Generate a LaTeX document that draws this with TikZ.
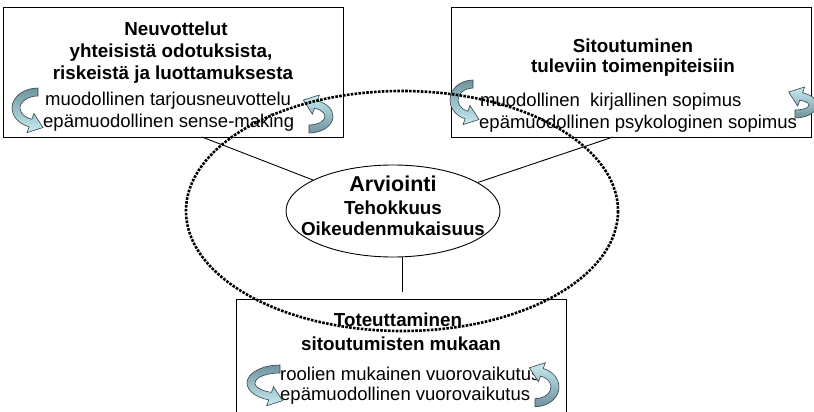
\documentclass[tikz,border=0pt]{standalone}
\usepackage{fontspec}
\setmainfont{Liberation Sans}
\usetikzlibrary{shapes.geometric}

\definecolor{loopdark}{HTML}{6F949E}
\definecolor{looplight}{HTML}{C8ECF1}
\definecolor{loopline}{HTML}{34444A}

\tikzset{
  panel/.style={draw=black, line width=1pt, fill=white, inner sep=0pt, anchor=north west},
  link/.style={draw=black, line width=0.9pt},
  headtxt/.style={font=\fontsize{18.8}{22}\selectfont\bfseries, anchor=base, inner sep=0pt},
  bigtxt/.style={font=\fontsize{21.5}{25}\selectfont\bfseries, anchor=base, inner sep=0pt},
  bodytxt/.style={font=\fontsize{18.5}{22}\selectfont, anchor=base west, inner sep=0pt},
  loopfill/.style={draw=loopline, line width=0.6pt},
  cycleband/.style={draw=black, line width=2.6pt, dash pattern=on 2.6pt off 1.3pt},
  % curved ribbon arrow: starts at the top, bends to the left, head at the bottom pointing right
  pics/loopleft/.style n args={2}{code={
    \pgfmathsetmacro\ox{#1}\pgfmathsetmacro\oy{#2}
    \pgfmathsetmacro\ix{#1-8}\pgfmathsetmacro\iy{#2-8}
    \pgfmathsetmacro\obx{\ox*cos(110)}\pgfmathsetmacro\oby{\oy*sin(110)}
    \pgfmathsetmacro\ibx{\ix*cos(110)}\pgfmathsetmacro\iby{\iy*sin(110)}
    \pgfmathsetmacro\tx{(\obx+\ibx)/2+12.5}\pgfmathsetmacro\ty{(\oby+\iby)/2+4.5}
    \path[loopfill, top color=loopdark, bottom color=looplight]
      (0,-\oy) arc[start angle=270, end angle=110, x radius=\ox, y radius=\oy]
      -- ({\obx-2.1},{\oby+5.8}) -- (\tx,\ty) -- ({\ibx+2.1},{\iby-5.8}) -- (\ibx,\iby)
      arc[start angle=110, end angle=270, x radius=\ix, y radius=\iy] -- cycle;
  }},
  % the same ribbon turned half round: starts at the bottom, head at the top pointing left
  pics/loopright/.style n args={2}{code={
    \pgfmathsetmacro\ox{#1}\pgfmathsetmacro\oy{#2}
    \pgfmathsetmacro\ix{#1-8}\pgfmathsetmacro\iy{#2-8}
    \pgfmathsetmacro\obx{\ox*cos(110)}\pgfmathsetmacro\oby{\oy*sin(110)}
    \pgfmathsetmacro\ibx{\ix*cos(110)}\pgfmathsetmacro\iby{\iy*sin(110)}
    \pgfmathsetmacro\tx{0-((\obx+\ibx)/2+12.5)}\pgfmathsetmacro\ty{0-((\oby+\iby)/2+4.5)}
    \path[loopfill, top color=looplight, bottom color=loopdark]
      (0,\oy) arc[start angle=90, end angle=-70, x radius=\ox, y radius=\oy]
      -- ({-(\obx)+2.1},{-(\oby)-5.8}) -- (\tx,\ty) -- ({-(\ibx)-2.1},{-(\iby)+5.8}) -- ({-(\ibx)},{-(\iby)})
      arc[start angle=-70, end angle=90, x radius=\ix, y radius=\iy] -- cycle;
  }},
}

\begin{document}
\begin{tikzpicture}[x=1pt, y=-1pt]
\useasboundingbox (0,0) rectangle (814,412);
\fill[white] (0,0) rectangle (814,412);

% the three panels
\node[panel, minimum width=340pt, minimum height=130pt] (b1) at (3,7) {};
\node[panel, minimum width=360pt, minimum height=130pt] (b2) at (451,7) {};
\node[panel, minimum width=330pt, minimum height=125pt] (b3) at (236,299) {};

% central evaluation ellipse
\node[draw=black, line width=0.9pt, fill=white, ellipse, inner sep=0pt,
      minimum width=214pt, minimum height=92pt] (ell) at (393,211) {};

% connectors
\coordinate (c1) at (202,137);
\coordinate (c2) at (613,137);
\coordinate (c3) at (402,292);
\draw[link] (c1) -- (ell);
\draw[link] (c2) -- (ell);
\draw[link] (ell.south -| c3) -- (c3);

% panel 1
\node[headtxt] (h11) at (176,36) {Neuvottelut};
\node[headtxt] (h12) at (171,57.3) {yhteisistä odotuksista,};
\node[headtxt] (h13) at (173,79) {riskeistä ja luottamuksesta};
\node[bodytxt] (l11) at (45,106) {muodollinen tarjousneuvottelu};
\node[bodytxt] (l12) at (43,127.7) {epämuodollinen sense-making};

% panel 2
\node[headtxt] (h21) at (633,53) {Sitoutuminen};
\node[headtxt] (h22) at (633,72.7) {tuleviin toimenpiteisiin};
\node[bodytxt] (l21) at (480,106.7) {muodollinen\ \ kirjallinen sopimus};
\node[bodytxt] (l22) at (479,128.3) {epämuodollinen psykologinen sopimus};

% panel 3
\node[headtxt] (h31) at (398,326.7) {Toteuttaminen};
\node[headtxt] (h32) at (401,350) {sitoutumisten mukaan};
\node[bodytxt] (l31) at (280,380) {roolien mukainen vuorovaikutus};
\node[bodytxt] (l32) at (280,400) {epämuodollinen vuorovaikutus};

% ellipse text
\node[bigtxt] (e1) at (393,191.7) {Arviointi};
\node[headtxt] (e2) at (393,214.3) {Tehokkuus};
\node[headtxt] (e3) at (393,235) {Oikeudenmukaisuus};

% ribbon arrows
\pic at (38,108) {loopleft={26}{20}};
\pic at (309,116.4) {loopright={24}{16.6}};
\pic at (473,100) {loopleft={23}{20}};
\pic at (795,105) {loopright={22}{13}};
\pic at (280,383) {loopleft={33}{18}};
\pic at (535,387) {loopright={24}{19.7}};

% dotted cycle around the whole process
\draw[cycleband] (402,211) ellipse [x radius=216, y radius=120];
\end{tikzpicture}
\end{document}
